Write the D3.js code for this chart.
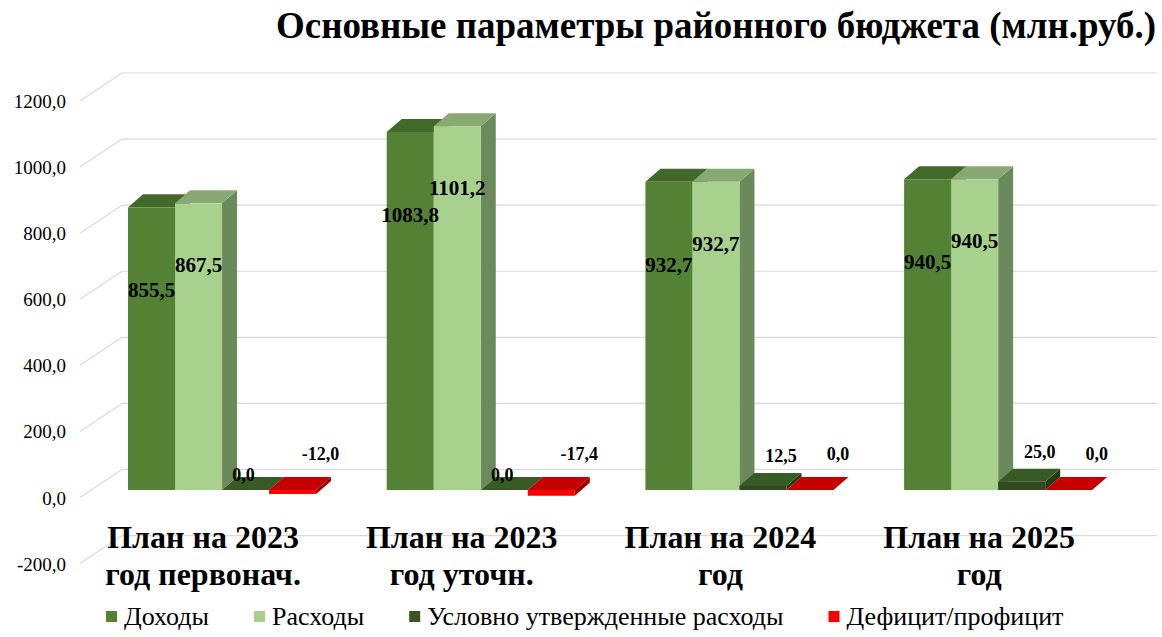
<!DOCTYPE html>
<html>
<head>
<meta charset="utf-8">
<script src="https://cdn.jsdelivr.net/npm/d3@7/dist/d3.min.js"></script>
</head>
<body style="margin:0">
<svg width="1162" height="637"></svg>
<script>
// chart data
const categories = [
  ['План на 2023', 'год первонач.'],
  ['План на 2023', 'год уточн.'],
  ['План на 2024', 'год'],
  ['План на 2025', 'год']
];
const seriesNames = ['Доходы', 'Расходы', 'Условно утвержденные расходы', 'Дефицит/профицит'];
const dohody = [855.5, 1083.8, 932.7, 940.5];
const rashody = [867.5, 1101.2, 932.7, 940.5];
const uslovno = [0.0, 0.0, 12.5, 25.0];
const deficit = [-12.0, -17.4, 0.0, 0.0];
const yTicks = [-200, 0, 200, 400, 600, 800, 1000, 1200];
const titleText = 'Основные параметры районного бюджета (млн.руб.)';

const seriesValues = [dohody, rashody, uslovno, deficit];

// faces: front, top, side
const colors = [
  {front: '#548235', top: '#43692a', side: '#3d6126', legend: '#548235'},
  {front: '#a9d18e', top: '#88a874', side: '#6b8a5b', legend: '#a9d18e'},
  {front: '#2e4a1e', top: '#385a25', side: '#233a16', legend: '#375623'},
  {front: '#ff0000', top: '#c40000', side: '#a00000', legend: '#ff0000'}
];

const FONT = '"Liberation Serif"';
const svg = d3.select('svg');
const loc = d3.formatLocale({decimal: ',', thousands: '', grouping: [3], currency: ['', ''], minus: '-'});
const fmt = loc.format('.1f');

// every text gets the serif family set on itself
function txt(parent) {
  return parent.append('text')
      .attr('font-family', 'Liberation Serif')
      .style('font-family', FONT);
}

// front plane (axis) and wall depth offset
const y = d3.scaleLinear().domain([-200, 1200]).range([563.6, 101]);
const wall = {dx: 42, dy: -28};
const axisX = 80;
const wallRight = 1157;

// bars sit a bit behind the front plane
const barShiftY = -7.5;
const depth = {dx: 15, dy: -13};
const yb = v => y(v) + barShiftY;

const x0 = d3.scaleBand()
    .domain(d3.range(categories.length))
    .range([92.7, 1127.5])
    .paddingInner(0.273)
    .paddingOuter(0.1365);
const x1 = d3.scaleBand()
    .domain(d3.range(seriesNames.length))
    .range([0, x0.bandwidth()]);

// title
txt(svg)
    .attr('x', wallRight - 1)
    .attr('y', 38)
    .attr('text-anchor', 'end')
    .attr('font-size', 37)
    .attr('font-weight', 'bold')
    .attr('textLength', 880)
    .attr('lengthAdjust', 'spacingAndGlyphs')
    .text(titleText);

// gridlines: wall + left diagonal
const grid = svg.append('g').attr('stroke', '#d9d9d9').attr('stroke-width', 1.2).attr('fill', 'none');
grid.selectAll('line.h').data(yTicks).enter().append('line')
    .attr('x1', axisX + wall.dx).attr('x2', wallRight)
    .attr('y1', d => y(d) + wall.dy).attr('y2', d => y(d) + wall.dy);
grid.selectAll('line.d').data(yTicks).enter().append('line')
    .attr('x1', axisX).attr('y1', d => y(d))
    .attr('x2', axisX + wall.dx).attr('y2', d => y(d) + wall.dy);

// y tick labels
yTicks.forEach(d => {
  txt(svg)
      .attr('x', 66)
      .attr('y', y(d) + 7)
      .attr('text-anchor', 'end')
      .attr('font-size', 19)
      .attr('fill', '#000')
      .text(fmt(d));
});

// category labels
categories.forEach((lines, i) => {
  const cx = x0(i) + x0.bandwidth() / 2 - 19;
  lines.forEach((ln, j) => {
    txt(svg)
        .attr('x', cx)
        .attr('y', 548 + j * 37)
        .attr('text-anchor', 'middle')
        .attr('font-size', 32)
        .attr('font-weight', 'bold')
        .text(ln);
  });
});

// 3d bars
const bars = svg.append('g');
categories.forEach((c, i) => {
  seriesValues.forEach((vals, s) => {
    const v = vals[i];
    const xl = x0(i) + x1(s), w = x1.bandwidth();
    const yt = yb(Math.max(v, 0)), ybt = yb(Math.min(v, 0));
    const g = bars.append('g');
    g.append('polygon')
        .attr('points', [[xl + w, yt], [xl + w + depth.dx, yt + depth.dy], [xl + w + depth.dx, ybt + depth.dy], [xl + w, ybt]].join(' '))
        .attr('fill', colors[s].side);
    g.append('polygon')
        .attr('points', [[xl, yt], [xl + depth.dx, yt + depth.dy], [xl + w + depth.dx, yt + depth.dy], [xl + w, yt]].join(' '))
        .attr('fill', colors[s].top);
    g.append('rect')
        .attr('x', xl).attr('y', yt)
        .attr('width', w).attr('height', Math.max(ybt - yt, 0))
        .attr('fill', colors[s].front);
  });
});

// value labels
categories.forEach((c, i) => {
  seriesValues.forEach((vals, s) => {
    const v = vals[i];
    const cx = x0(i) + x1(s) + x1.bandwidth() / 2;
    const top = yb(Math.max(v, 0));
    let lx = cx, ly, fs;
    if (s === 0) { ly = top + 83 + 7; fs = 21; }
    else if (s === 1) { ly = top + 62 + 7; fs = 21; }
    else if (s === 2) {
      fs = 18;
      if (v === 0) { lx = cx - 2; ly = yb(0) - 15 + 6; }
      else { lx = cx + 18; ly = top - 30 + 6; }
    } else {
      fs = 18; lx = cx + 28; ly = yb(0) - 36 + 6;
    }
    txt(svg)
        .attr('font-weight', 'bold')
        .attr('fill', '#000')
        .attr('x', lx).attr('y', ly)
        .attr('text-anchor', 'middle')
        .attr('font-size', fs)
        .text(fmt(v));
  });
});

// legend
let lx = 106;
seriesNames.forEach((name, s) => {
  svg.append('rect')
      .attr('x', lx).attr('y', 611)
      .attr('width', 11).attr('height', 11)
      .attr('fill', colors[s].legend);
  const t = txt(svg)
      .attr('x', lx + 18).attr('y', 625)
      .attr('font-size', 26)
      .text(name);
  lx += 18 + t.node().getComputedTextLength() + 45;
});
</script>
</body>
</html>
